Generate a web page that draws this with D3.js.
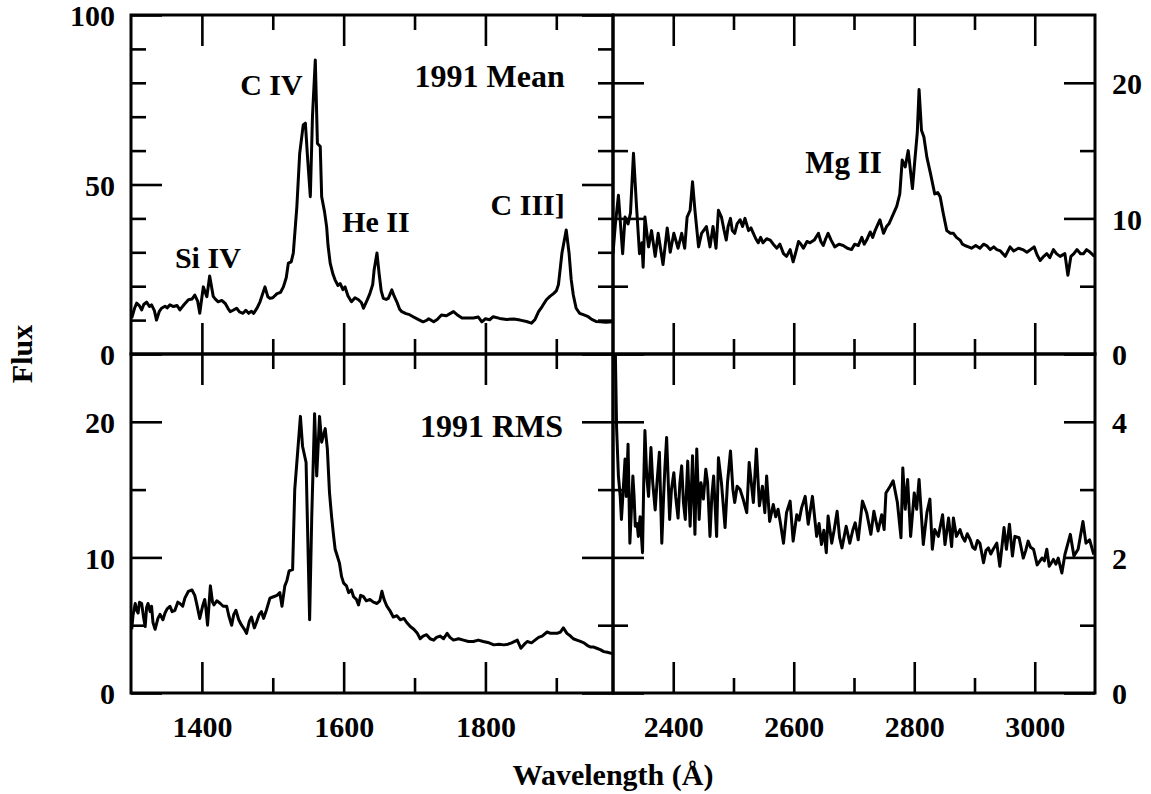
<!DOCTYPE html>
<html>
<head>
<meta charset="utf-8">
<title>1991 Mean and RMS spectra</title>
<script src="https://d3js.org/d3.v7.min.js"></script>
<style>
  body { margin: 0; padding: 0; background: #fff; }
  svg text { font-family: "Liberation Serif", "Times New Roman", serif; font-weight: bold; fill: #000; }
  .tick line { stroke: #000; stroke-width: 2.6; }
  .domain { display: none; }
  .spec { fill: none; stroke: #000; stroke-width: 3; stroke-linejoin: round; }
  .frame { fill: none; stroke: #000; stroke-width: 3; }
</style>
</head>
<body>
<svg id="chart" width="1151" height="794"></svg>
<script>

// [wavelength (A), flux]
var meanUV = [[1301,10.6],[1305,13.5],[1308,15],[1312,14.2],[1315,13],[1318,14.6],[1322,15.3],[1326,14],[1329,14.5],[1333,12.8],[1336,10],
  [1340,12.6],[1343,13.5],[1348,14.1],[1351,13.6],[1355,14.5],[1360,14],[1365,14.3],[1369,13],[1375,14.6],[1381,16],
  [1386,16.2],[1390,17.4],[1394,15.6],[1397,12],[1402,19.8],[1407,16.9],[1411,23],[1416,17],[1419,16.2],[1423,15.4],[1428,15.8],[1433,14.9],
  [1437,13.4],[1440,12.5],[1444,12.9],[1449,13.5],[1453,12.4],[1458,12],[1462,12.9],[1466,12],[1470,12.6],[1473,12],
  [1478,13.6],[1482,15.4],[1489,19.8],[1493,16.9],[1496,16.4],[1500,16.6],[1506,17.8],[1511,18.2],[1515,19.8],[1519,22.5],[1522,26.8],[1526,27.2],[1529,29.8],[1534,43.5],
  [1538,59.2],[1543,67.6],[1546,68.1],[1549,58.2],[1553,46.4],[1556,70],[1560,86.7],[1563,62.1],[1567,61.2],[1569,46.4],
  [1573,42],[1576,37.5],[1578,32],[1581,26.8],[1585,23.5],[1588,21.8],[1592,20.2],[1595,20.8],[1599,19],[1602,19.8],[1606,17.2],[1611,15.4],[1616,16.6],[1621,16],[1625,15.2],[1628,13.5],[1633,15.8],[1637,17.8],[1641,20.5],[1643,24.8],
  [1647,29.8],[1650,23.8],[1653,18.6],[1656,16.4],[1660,16.1],[1663,16.4],[1668,18.9],[1671,17.2],[1675,15.4],[1679,13.2],[1682,12.5],[1688,11.9],[1693,11.6],[1698,11],[1705,10.2],[1712,9.5],[1717,9.9],[1720,10.4],[1727,9.5],
  [1732,10.2],[1738,11.5],[1745,11.3],[1750,11.9],[1755,12.5],[1760,11.6],[1767,10.6],[1775,10.6],[1783,10.6],[1790,10.9],[1795,9.5],[1800,10.4],[1806,10.1],[1811,11],[1820,10.5],[1830,10.2],[1840,10.3],[1849,10],[1858,9.6],[1865,9.1],[1870,10.2],[1875,12.5],
  [1880,14],[1886,16],[1891,17],[1896,17.8],[1900,18.6],[1903,20.4],[1908,29.8],[1914,36.6],[1918,29.8],[1921,22],[1924,17.4],[1928,13.5],[1933,12],[1938,11.6],[1945,11],[1950,10.2],[1956,9.6],[1962,9.5],[1970,9.4],[1980,9.5]];

var meanMg = [[2300,7.4],[2304,9.6],[2309,11.7],[2316,7.4],[2320,10.1],[2325,9.6],[2329,10.4],[2334,14.8],[2339,10.9],[2344,7.4],[2348,8.2],
  [2350,6.4],[2353,10.1],[2359,7.9],[2364,9.1],[2370,7.2],[2375,8.9],[2383,6.6],[2390,9.3],[2395,7.5],[2401,8.9],
  [2408,7.8],[2414,8.9],[2419,7.8],[2423,10.1],[2428,10.6],[2432,12.7],[2436,10.6],[2442,7.9],[2447,8.9],[2455,9.4],
  [2461,7.9],[2466,9.4],[2471,7.8],[2475,10.6],[2480,10.1],[2484,9.2],[2488,8.4],[2491,9.4],[2495,10],[2498,9.1],[2502,8.9],[2506,9.6],[2511,9.9],[2515,9.4],[2519,10],
  [2525,9.1],[2529,9.3],[2533,8.9],[2537,8.5],[2541,8.2],[2545,8.6],[2549,8.2],[2555,8.5],[2561,8.4],[2566,8.1],[2572,7.8],[2577,8.1],[2583,7.4],[2588,7.2],[2594,7.7],[2599,6.8],
  [2604,7.6],[2608,8.3],[2612,8.1],[2616,7.8],[2622,8.3],[2627,8.2],[2634,8.4],[2641,8.9],[2645,8.3],[2649,8],[2653,8.5],[2657,8.9],[2662,8.4],[2668,7.9],[2675,8.1],[2682,8],[2689,7.8],[2696,7.7],[2701,8.1],[2707,8],
  [2713,8.6],[2717,8.1],[2721,8.4],[2727,9],[2731,8.6],[2735,9.1],[2739,9.5],[2743,9.9],[2749,8.9],[2754,9.4],[2758,9.6],[2763,10.1],[2767,10.5],[2771,10.9],[2776,11.8],
  [2780,14.3],[2785,13.8],[2790,15],[2797,12.2],[2801,14.3],[2805,16.3],[2808,19.5],[2812,16.5],[2816,16],[2821,14.5],
  [2827,13.3],[2834,11.8],[2839,11.9],[2843,11.6],[2848,10.4],[2854,9.1],[2860,8.9],[2865,8.9],[2870,8.6],[2876,8.4],[2880,8.1],[2884,8],[2890,7.9],[2895,7.8],[2902,8],[2909,7.8],
  [2915,8.1],[2920,8],[2926,7.7],[2932,7.9],[2937,7.7],[2943,7.6],[2951,7.2],[2959,7.9],[2965,7.6],[2973,7.8],[2980,7.7],[2987,7.5],[2993,7.7],[2999,7.9],[3004,7.3],[3009,6.9],[3015,7.2],[3020,7.4],[3025,7.1],[3031,7.7],
  [3036,7.4],[3042,7.2],[3050,7.4],[3055,5.8],[3060,7.2],[3065,7.4],[3070,7.7],[3076,7.4],[3081,7.4],[3086,7.7],[3092,7.5],[3099,7.2]];

var rmsUV = [[1301,4.7],[1303,5.8],[1306,6.6],[1308,6.1],[1310,5.9],[1312,6.7],[1315,6.6],[1318,5.5],[1320,4.9],[1322,6.3],[1324,6.6],[1327,6],[1329,6.4],[1331,5.2],[1334,4.7],[1338,5.5],[1341,5.8],[1345,5.4],[1348,5.9],
  [1351,6.2],[1355,6.4],[1358,6],[1362,6.1],[1366,6.7],[1369,6.6],[1373,6.4],[1376,7],[1381,7.5],[1386,7.6],[1390,7.2],[1393,6.5],[1397,5.5],[1401,6.4],[1404,6.9],[1406,6.1],[1408,5],
  [1412,7.9],[1415,6.7],[1417,6.5],[1421,6.8],[1426,6.6],[1430,6.4],[1435,6.4],[1438,5.7],[1442,5],[1445,5.8],[1448,6.1],[1452,5.4],[1456,5],[1460,4.7],[1463,4.4],[1467,5.3],[1470,5.6],[1474,4.8],[1477,5.2],
  [1481,5.8],[1484,6],[1487,5.5],[1491,6.1],[1496,7],[1501,7.1],[1506,7.2],[1510,7.4],[1513,6.4],[1517,7.9],[1520,8.3],[1523,9],[1528,9.1],[1531,15],[1539,20.4],
  [1542,18.2],[1547,17],[1552,5.4],[1555,13],[1559,20.6],[1562,16],[1566,20.4],[1569,18.5],[1574,19.5],[1577,18],
  [1580,14.8],[1583,13],[1586,11.5],[1588,10.6],[1591,10.1],[1594,9.6],[1597,8.6],[1600,8.1],[1604,7.9],[1607,7.4],[1611,7.6],[1614,7.1],[1618,6.9],[1621,6.5],[1624,7.2],[1628,7.1],[1632,6.8],[1637,6.9],
  [1642,6.7],[1647,6.6],[1651,6.8],[1654,7.5],[1657,6.9],[1661,6.4],[1665,6.1],[1670,5.6],[1675,5.7],[1680,5.4],[1685,5.5],[1689,5.2],[1694,4.9],[1699,4.7],[1704,4.4],[1708,4],[1712,4.2],[1717,4.3],[1722,4],[1727,3.9],
  [1731,4.1],[1736,4.2],[1741,4],[1746,4.4],[1750,4.1],[1755,3.9],[1762,4],[1769,3.9],[1776,3.8],[1783,3.8],[1790,3.9],[1797,3.8],[1805,3.7],[1812,3.55],[1819,3.6],[1826,3.55],[1832,3.6],[1837,3.7],[1845,3.9],
  [1850,3.3],[1855,3.6],[1859,3.8],[1865,3.7],[1870,3.9],[1875,4.1],[1880,4.2],[1887,4.5],[1892,4.4],[1896,4.4],[1901,4.4],[1906,4.5],[1910,4.8],[1915,4.4],[1920,4.2],[1924,4],[1929,3.9],
  [1934,3.8],[1939,3.7],[1944,3.5],[1948,3.4],[1952,3.4],[1957,3.3],[1962,3.2],[1967,3.05],[1972,3],[1979,2.9]];

var rmsMg = [[2300,6],[2303,5.5],[2306,3.9],[2309,3.2],[2312,2.9],[2314,2.56],[2317,3],[2320,3.45],[2322,2.9],[2325,3.67],[2328,2.21],[2331,2.8],[2333,3.2],[2335,2.9],[2337,2.46],[2340,2.5],[2342,2.31],
  [2345,2.6],[2349,2.07],[2351,3.1],[2353,3.87],[2356,3.2],[2359,2.9],[2363,3.62],[2366,3.1],[2370,2.7],[2373,3.1],[2377,3.55],[2381,2.21],[2384,2.9],[2386,3.3],[2389,3.77],[2394,2.56],[2397,3],[2401,3.25],
  [2404,2.9],[2408,2.58],[2411,3.1],[2414,3.35],[2417,2.8],[2420,2.56],[2424,3.42],[2428,2.46],[2432,3.5],[2436,2.34],[2439,3.6],[2443,2.56],[2446,3.1],[2450,2.86],
  [2454,3.3],[2457,3.1],[2461,2.31],[2464,2.9],[2467,3.2],[2472,2.31],[2475,3.47],[2480,3.1],[2486,2.44],[2490,3.1],[2495,3.57],[2499,3],[2502,2.81],[2506,3.05],[2511,3],
  [2516,2.86],[2522,2.66],[2526,3.4],[2533,2.81],[2538,3.6],[2543,2.76],[2548,3.05],[2552,2.66],[2555,3.2],[2560,2.53],
  [2566,2.78],[2570,2.6],[2574,2.71],[2578,2.5],[2583,2.21],[2588,2.66],[2594,2.83],[2599,2.24],[2605,2.63],[2609,2.55],[2613,2.73],[2619,2.9],[2624,2.49],
  [2631,2.9],[2638,2.31],[2642,2.5],[2646,2.19],[2650,2.4],[2654,2.07],[2657,2.61],[2663,2.21],[2667,2.4],[2672,2.68],[2676,2.3],[2680,2.14],[2687,2.46],[2693,2.21],
  [2698,2.4],[2702,2.51],[2707,2.26],[2714,2.83],[2721,2.66],[2728,2.34],[2733,2.68],[2740,2.39],[2746,2.63],[2750,2.41],[2753,2.95],
  [2760,3.05],[2765,3.13],[2772,2.81],[2778,2.29],[2781,3.32],[2785,2.71],[2789,3.15],[2794,2.31],[2800,2.95],[2804,2.71],
  [2808,3.15],[2815,2.19],[2821,2.66],[2826,2.86],[2830,2.12],[2834,2.41],[2840,2.31],[2847,2.63],[2851,2.19],[2857,2.58],
  [2862,2.16],[2865,2.58],[2870,2.31],[2876,2.41],[2880,2.3],[2884,2.24],[2888,2.35],[2893,2.26],[2897,2.15],[2901,2.12],[2905,2.25],[2909,2.21],[2915,1.92],[2919,2.1],[2923,2.14],
  [2927,2.05],[2931,2.12],[2937,2.21],[2942,1.87],[2949,2.44],[2953,2.12],[2958,2.49],[2963,2.02],[2967,2.31],[2974,2.29],[2981,1.99],
  [2985,2.1],[2989,2.24],[2993,2.15],[2998,2.12],[3004,1.89],[3012,1.99],[3016,1.95],[3020,2.12],[3024,1.87],[3031,1.97],[3035,1.9],[3039,1.99],[3045,1.77],[3050,2.04],
  [3059,2.34],[3065,2.02],[3072,2.12],[3080,2.53],[3085,2.21],[3091,2.26],[3098,2.04]];

// tick values
var uvMajor = [1400, 1600, 1800];
var uvMinor = [1500, 1700, 1900];
var mgMajor = [2400, 2600, 2800, 3000];
var mgMinor = [2500, 2700, 2900];

var svg = d3.select("#chart");

var xLeft = d3.scaleLinear().domain([1300, 1980]).range([131, 613]);
var xRight = d3.scaleLinear().domain([2300, 3100]).range([613, 1095]);
var yMeanUV = d3.scaleLinear().domain([0, 100]).range([354, 15]);
var yMeanMg = d3.scaleLinear().domain([0, 25]).range([354, 15]);
var yRmsUV = d3.scaleLinear().domain([0, 25]).range([693, 354]);
var yRmsMg = d3.scaleLinear().domain([0, 5]).range([693, 354]);

var panels = [
  {id: "tl", x: xLeft, y: yMeanUV, data: meanUV, xMaj: uvMajor, xMin: uvMinor,
   yMaj: [0, 50, 100], yMin: [10, 20, 30, 40, 60, 70, 80, 90], side: "left", xLab: false},
  {id: "tr", x: xRight, y: yMeanMg, data: meanMg, xMaj: mgMajor, xMin: mgMinor,
   yMaj: [0, 10, 20], yMin: [5, 15], side: "right", xLab: false},
  {id: "bl", x: xLeft, y: yRmsUV, data: rmsUV, xMaj: uvMajor, xMin: uvMinor,
   yMaj: [0, 10, 20], yMin: [5, 15], side: "left", xLab: true},
  {id: "br", x: xRight, y: yRmsMg, data: rmsMg, xMaj: mgMajor, xMin: mgMinor,
   yMaj: [0, 2, 4], yMin: [1, 3], side: "right", xLab: true}
];

var major = 31, minor = 15;
var fmt = d3.format("d");

panels.forEach(function(p) {
  var x0 = p.x.range()[0], x1 = p.x.range()[1];
  var y0 = p.y.range()[0], y1 = p.y.range()[1];

  svg.append("clipPath").attr("id", "clip-" + p.id)
    .append("rect").attr("x", x0).attr("y", y1).attr("width", x1 - x0).attr("height", y0 - y1);

  var line = d3.line()
    .x(function(d) { return p.x(d[0]); })
    .y(function(d) { return p.y(d[1]); });

  svg.append("path")
    .datum(p.data)
    .attr("class", "spec")
    .attr("clip-path", "url(#clip-" + p.id + ")")
    .attr("d", line);

  // y ticks, both sides, pointing inward
  [["left", x0, d3.axisLeft], ["right", x1, d3.axisRight]].forEach(function(s) {
    var labelled = s[0] === p.side;
    svg.append("g").attr("class", "yaxis").attr("transform", "translate(" + s[1] + ",0)")
      .call(s[2](p.y).tickValues(p.yMaj).tickSize(-major).tickPadding(s[0] === "left" ? 16 : 17)
        .tickFormat(labelled ? fmt : ""))
      .attr("font-size", 30);
    svg.append("g").attr("transform", "translate(" + s[1] + ",0)")
      .call(s[2](p.y).tickValues(p.yMin).tickSize(-minor).tickFormat(""));
  });

  // x ticks, top and bottom
  [[y1, d3.axisTop, false], [y0, d3.axisBottom, p.xLab]].forEach(function(s) {
    svg.append("g").attr("transform", "translate(0," + s[0] + ")")
      .call(s[1](p.x).tickValues(p.xMaj).tickSize(-major).tickPadding(23).tickFormat(s[2] ? fmt : ""))
      .attr("font-size", 30);
    svg.append("g").attr("transform", "translate(0," + s[0] + ")")
      .call(s[1](p.x).tickValues(p.xMin).tickSize(-minor).tickFormat(""));
  });

  svg.append("rect").attr("class", "frame")
    .attr("x", x0).attr("y", y1).attr("width", x1 - x0).attr("height", y0 - y1);
});

svg.selectAll(".tick text").attr("font-family", null);
svg.selectAll(".yaxis .tick text").attr("dy", "0.36em");

// line labels
var notes = [
  {t: "1991 Mean", x: xLeft(1912), y: yMeanUV(78.8), a: "end", s: 32},
  {t: "C IV", x: xLeft(1454), y: yMeanUV(76.4), a: "start", s: 30},
  {t: "Si IV", x: xLeft(1362), y: yMeanUV(25.4), a: "start", s: 30},
  {t: "He II", x: xLeft(1598), y: yMeanUV(36), a: "start", s: 30},
  {t: "C III]", x: xLeft(1912), y: yMeanUV(41), a: "end", s: 30},
  {t: "Mg II", x: xRight(2619), y: yMeanMg(13.35), a: "start", s: 31},
  {t: "1991 RMS", x: xLeft(1909.5), y: yRmsUV(18.9), a: "end", s: 32}
];

svg.selectAll(".note").data(notes).enter().append("text")
  .attr("class", "note")
  .attr("x", function(d) { return d.x; })
  .attr("y", function(d) { return d.y; })
  .attr("text-anchor", function(d) { return d.a; })
  .attr("font-size", function(d) { return d.s; })
  .text(function(d) { return d.t; });

svg.append("text")
  .attr("transform", "translate(32,354) rotate(-90)")
  .attr("text-anchor", "middle")
  .attr("font-size", 30)
  .text("Flux");

svg.append("text")
  .attr("x", 613).attr("y", 785)
  .attr("text-anchor", "middle")
  .attr("font-size", 30)
  .text("Wavelength (\u00c5)");

</script>
</body>
</html>
